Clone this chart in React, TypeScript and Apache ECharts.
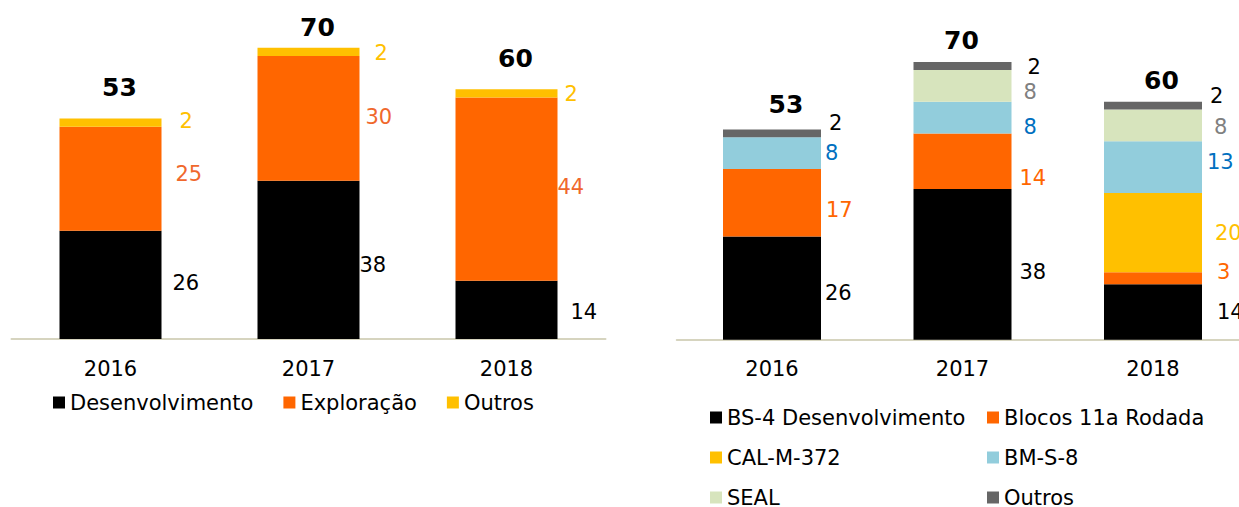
import React, { useEffect, useRef } from 'react';
import * as echarts from 'echarts';

// ---------- data ----------
const years = ['2016', '2017', '2018'];

// left chart
const desenvolvimento = [26, 38, 14];
const exploracao = [25, 30, 44];
const outrosLeft = [2, 2, 2];

// right chart
const bs4Desenvolvimento = [26, 38, 14];
const blocos11aRodada = [17, 14, 3];
const calM372 = [0, 0, 20];
const bmS8 = [8, 8, 13];
const seal = [0, 8, 8];
const outrosRight = [2, 2, 2];

// ---------- label placement (layout, not data) ----------
const OFF_L = {
  dev: [[11, -2], [0, 5], [13, 2]],
  exp: [[14, -5], [6, -1], [0, -2]],
  out: [[18, -2], [15, 1], [7, 1]],
  tot: [[9, -18.5], [9, -7.5], [9, -18.5]],
};
const OFF_R = {
  bs4: [[4, 5], [8, 8], [15, 0]],
  blo: [[5, 7], [8, 17], [15, -6]],
  cal: [[0, 0], [0, 0], [13, 0]],
  bms: [[4, 0], [12, 9], [5, -5]],
  seal: [[0, 0], [12, 6], [12, 2]],
  out: [[8, -10], [16, 1], [8, -10]],
  tot: [[14, -12.5], [-1, -8.5], [8.5, -8.5]],
};

const FONT = 'DejaVu Sans';
const C = {
  black: '#000000',
  orange: '#FF6600',
  orangeLabel: '#F0682C',
  yellow: '#FFC000',
  blue: '#92CDDC',
  blueLabel: '#0070C0',
  green: '#D7E4BD',
  greyLabel: '#808080',
  grey: '#666666',
  axis: '#D6D4BF',
};

const sum = (arrs: number[][]) => years.map((_, i) => arrs.reduce((s, a) => s + a[i], 0));

function seg(
  name: string,
  values: number[],
  color: string,
  labelColor: string,
  offsets: number[][],
  idx: number,
  barWidth: number
) {
  return {
    name,
    type: 'bar',
    stack: 'total' + idx,
    xAxisIndex: idx,
    yAxisIndex: idx,
    barWidth,
    itemStyle: { color },
    label: {
      show: true,
      position: 'right',
      distance: 0,
      color: labelColor,
      fontSize: 21,
      fontFamily: FONT,
      formatter: (p: any) => (p.value ? String(p.value) : ''),
    },
    data: values.map((v, i) => ({ value: v, label: { offset: offsets[i] } })),
  };
}

function totalSeries(totals: number[], offsets: number[][], idx: number, barWidth: number) {
  return {
    name: '__total' + idx,
    type: 'bar',
    stack: 'total' + idx,
    xAxisIndex: idx,
    yAxisIndex: idx,
    barWidth,
    itemStyle: { color: 'transparent' },
    label: {
      show: true,
      position: 'top',
      distance: 0,
      color: '#000',
      fontSize: 25,
      fontWeight: 'bold',
      fontFamily: FONT,
      formatter: (p: any) => String(totals[p.dataIndex]),
    },
    data: totals.map((_, i) => ({ value: 0, label: { offset: offsets[i] } })),
  };
}

export default function App() {
  const ref = useRef<HTMLDivElement>(null);
  useEffect(() => {
    if (!ref.current) return;
    const chart = echarts.init(ref.current, undefined, { renderer: 'svg' });
    const totL = sum([desenvolvimento, exploracao, outrosLeft]);
    const totR = sum([bs4Desenvolvimento, blocos11aRodada, calM372, bmS8, seal, outrosRight]);

    const xAxisBase = {
      type: 'category',
      data: years,
      axisTick: { show: false },
      axisLine: { show: true, lineStyle: { color: C.axis, width: 2 } },
      axisLabel: { fontSize: 21, color: '#000', fontFamily: FONT, margin: 19 },
    };
    const yAxisBase = { type: 'value', min: 0, max: 80, show: false };
    const legendText = { fontSize: 21, color: '#000', fontFamily: FONT, lineHeight: 20 };

    chart.setOption({
      animation: false,
      backgroundColor: '#ffffff',
      grid: [
        { left: 11.5, top: 6, width: 594, height: 333, outerBoundsMode: 'none' },
        { left: 676.75, top: 22.3, width: 571.5, height: 317.4, outerBoundsMode: 'none' },
      ],
      xAxis: [
        { ...xAxisBase, gridIndex: 0 },
        { ...xAxisBase, gridIndex: 1 },
      ],
      yAxis: [
        { ...yAxisBase, gridIndex: 0 },
        { ...yAxisBase, gridIndex: 1 },
      ],
      legend: [
        {
          left: 53,
          top: 392,
          padding: 0,
          icon: 'rect',
          itemWidth: 12,
          itemHeight: 12,
          itemGap: 30,
          selectedMode: false,
          textStyle: legendText,
          data: ['Desenvolvimento', 'Exploração', 'Outros'],
        },
        {
          orient: 'vertical',
          left: 710,
          top: 407,
          height: 130,
          padding: 0,
          icon: 'rect',
          itemWidth: 12,
          itemHeight: 12,
          itemGap: 19,
          selectedMode: false,
          textStyle: legendText,
          data: ['BS-4 Desenvolvimento', 'CAL-M-372', 'SEAL'],
        },
        {
          orient: 'vertical',
          left: 987,
          top: 407,
          height: 130,
          padding: 0,
          icon: 'rect',
          itemWidth: 12,
          itemHeight: 12,
          itemGap: 19,
          selectedMode: false,
          textStyle: legendText,
          data: [
            'Blocos 11a Rodada',
            'BM-S-8',
            { name: 'Outros', itemStyle: { color: C.grey } },
          ],
        },
      ],
      series: [
        seg('Desenvolvimento', desenvolvimento, C.black, C.black, OFF_L.dev, 0, 102),
        seg('Exploração', exploracao, C.orange, C.orangeLabel, OFF_L.exp, 0, 102),
        seg('Outros', outrosLeft, C.yellow, C.yellow, OFF_L.out, 0, 102),
        totalSeries(totL, OFF_L.tot, 0, 102),
        seg('BS-4 Desenvolvimento', bs4Desenvolvimento, C.black, C.black, OFF_R.bs4, 1, 98),
        seg('Blocos 11a Rodada', blocos11aRodada, C.orange, C.orange, OFF_R.blo, 1, 98),
        seg('CAL-M-372', calM372, C.yellow, C.yellow, OFF_R.cal, 1, 98),
        seg('BM-S-8', bmS8, C.blue, C.blueLabel, OFF_R.bms, 1, 98),
        seg('SEAL', seal, C.green, C.greyLabel, OFF_R.seal, 1, 98),
        seg('Outros', outrosRight, C.grey, C.black, OFF_R.out, 1, 98),
        totalSeries(totR, OFF_R.tot, 1, 98),
      ],
    });
    return () => chart.dispose();
  }, []);
  return (
    <div
      ref={ref}
      style={{ position: 'absolute', left: 0, top: 0, width: 1239, height: 507 }}
    />
  );
}
